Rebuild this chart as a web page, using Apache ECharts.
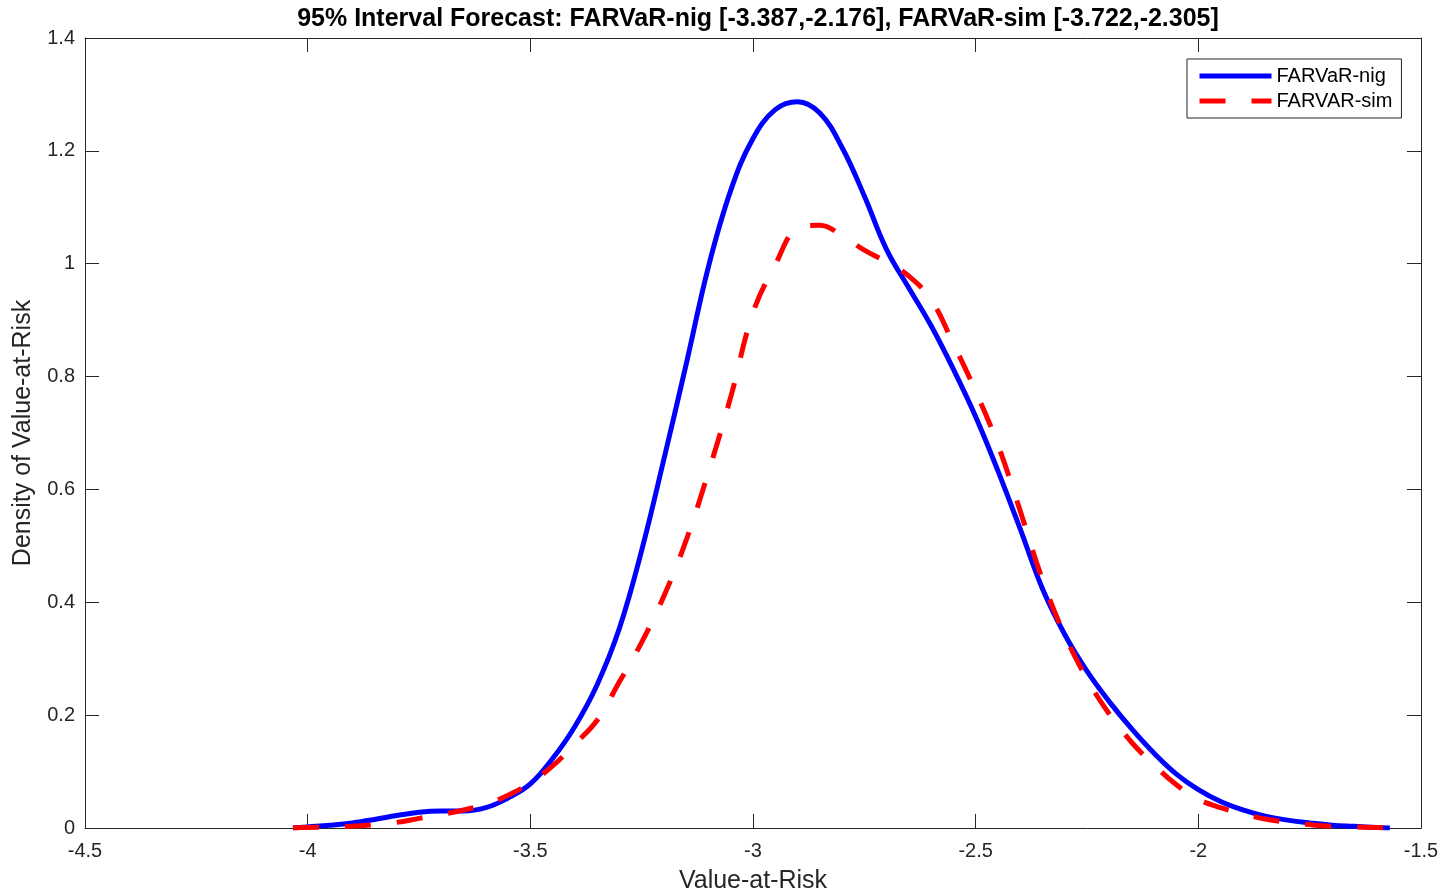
<!DOCTYPE html>
<html><head><meta charset="utf-8">
<script src="https://cdn.jsdelivr.net/npm/echarts@6/dist/echarts.min.js"></script>
<style>html,body{margin:0;padding:0;background:#fff}#c{width:1449px;height:896px}</style>
</head><body><div id="c"></div>
<script>
const titleText = '95% Interval Forecast: FARVaR-nig [-3.387,-2.176], FARVaR-sim [-3.722,-2.305]';
const xName = 'Value-at-Risk';
const yName = 'Density of Value-at-Risk';
const seriesNames = ['FARVaR-nig', 'FARVAR-sim'];
const xValues = [-4.033, -4.00, -3.95, -3.90, -3.85, -3.80, -3.75, -3.70, -3.65, -3.60, -3.55, -3.50, -3.45, -3.40, -3.35, -3.30, -3.25, -3.20, -3.15, -3.10, -3.05, -3.00, -2.95, -2.90, -2.85, -2.80, -2.75, -2.70, -2.65, -2.60, -2.55, -2.50, -2.45, -2.40, -2.35, -2.30, -2.25, -2.20, -2.15, -2.10, -2.05, -2.00, -1.95, -1.90, -1.85, -1.80, -1.75, -1.70, -1.65, -1.60, -1.57];
const nigDensity = [0.000, 0.002, 0.005, 0.009, 0.015, 0.022, 0.028, 0.030, 0.030, 0.036, 0.053, 0.078, 0.123, 0.180, 0.254, 0.354, 0.492, 0.654, 0.822, 0.995, 1.130, 1.222, 1.273, 1.287, 1.267, 1.206, 1.120, 1.025, 0.957, 0.890, 0.813, 0.729, 0.633, 0.530, 0.424, 0.343, 0.278, 0.224, 0.176, 0.133, 0.096, 0.068, 0.047, 0.032, 0.021, 0.014, 0.009, 0.005, 0.003, 0.001, 0.000];
const simDensity = [0.000, 0.001, 0.002, 0.003, 0.006, 0.010, 0.017, 0.024, 0.032, 0.042, 0.058, 0.080, 0.110, 0.149, 0.191, 0.259, 0.329, 0.411, 0.510, 0.631, 0.764, 0.913, 0.998, 1.062, 1.068, 1.050, 1.024, 1.003, 0.978, 0.936, 0.858, 0.774, 0.679, 0.562, 0.440, 0.342, 0.264, 0.202, 0.152, 0.112, 0.077, 0.051, 0.036, 0.025, 0.016, 0.010, 0.006, 0.003, 0.002, 0.001, 0.000];
const xMin = -4.5, xMax = -1.5, xStep = 0.5;
const yMin = 0, yMax = 1.4, yStep = 0.2;

const FONT = "'Liberation Sans', Arial, Helvetica, sans-serif";
const AX = '#262626';
const chart = echarts.init(document.getElementById('c'), null, {renderer: 'canvas'});
function axisBase(extra) {
  return Object.assign({
    type: 'value',
    axisLine: {show: true, onZero: false, lineStyle: {color: AX, width: 1}},
    axisTick: {show: true, inside: true, length: 14, lineStyle: {color: AX, width: 1}},
    splitLine: {show: false},
    axisLabel: {color: AX, fontSize: 20, fontFamily: FONT}
  }, extra);
}
chart.setOption({
  animation: false,
  backgroundColor: '#ffffff',
  title: {
    text: titleText, left: 753, top: 2, textAlign: 'center',
    textStyle: {fontSize: 25, fontWeight: 'bold', color: '#000', fontFamily: FONT}
  },
  grid: {left: 85, right: 28, top: 38, bottom: 68, containLabel: false, outerBoundsMode: 'none'},
  legend: {
    data: seriesNames, orient: 'vertical', left: 1187, top: 59,
    itemWidth: 72, itemHeight: 20, itemGap: 5,
    padding: [7, 9, 7, 10], borderColor: AX, borderWidth: 1, backgroundColor: '#fff',
    textStyle: {fontSize: 20, color: '#000', fontFamily: FONT},
    itemStyle: {opacity: 0},
    lineStyle: {width: 5}
  },
  xAxis: [
    axisBase({min: xMin, max: xMax, interval: xStep, position: 'bottom',
      name: xName, nameLocation: 'middle', nameGap: 41,
      nameTextStyle: {fontSize: 25, color: AX, fontFamily: FONT},
      axisLabel: {color: AX, fontSize: 20, fontFamily: FONT, margin: 13}}),
    axisBase({min: xMin, max: xMax, interval: xStep, position: 'top', axisLabel: {show: false}})
  ],
  yAxis: [
    axisBase({min: yMin, max: yMax, interval: yStep, position: 'left',
      name: yName, nameLocation: 'middle', nameGap: 49, nameRotate: 90,
      nameTextStyle: {fontSize: 25, color: AX, fontFamily: FONT},
      axisLabel: {color: AX, fontSize: 20, fontFamily: FONT, margin: 10}}),
    axisBase({min: yMin, max: yMax, interval: yStep, position: 'right', axisLabel: {show: false}})
  ],
  series: [
    {
      name: seriesNames[0], type: 'line', xAxisIndex: 0, yAxisIndex: 0,
      data: xValues.map((x, i) => [x, nigDensity[i]]),
      symbol: 'none', smooth: 0.4,
      lineStyle: {color: '#0000ff', width: 5}, itemStyle: {color: '#0000ff'}
    },
    {
      name: seriesNames[1], type: 'line', xAxisIndex: 0, yAxisIndex: 0,
      data: xValues.map((x, i) => [x, simDensity[i]]),
      symbol: 'none', smooth: 0.4,
      lineStyle: {color: '#ff0000', width: 5, type: [26, 26], cap: 'butt'}, itemStyle: {color: '#ff0000'}
    }
  ]
});
</script></body></html>
